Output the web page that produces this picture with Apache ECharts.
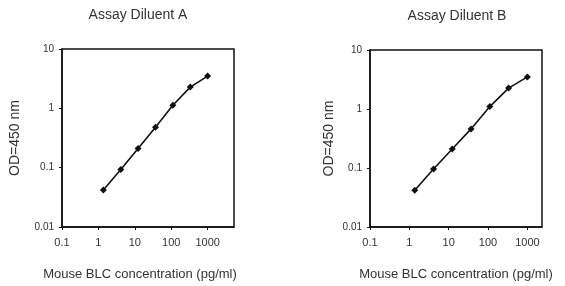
<!DOCTYPE html>
<html>
<head>
<meta charset="utf-8">
<script src="https://cdn.jsdelivr.net/npm/echarts@6/dist/echarts.min.js"></script>
<style>
  html, body { margin: 0; padding: 0; background: #fff; }
  #chart { width: 565px; height: 286px; }
</style>
</head>
<body>
<div id="chart"></div>
<script>
// concentrations (pg/ml), 3-fold dilutions
var conc = [1.37, 4.12, 12.3, 37, 111, 333, 1000];
var odA = [0.042, 0.093, 0.21, 0.48, 1.13, 2.28, 3.5];
var odB = [0.042, 0.096, 0.21, 0.46, 1.1, 2.26, 3.5];
var titles = ['Assay Diluent A', 'Assay Diluent B'];
var xName = 'Mouse BLC concentration (pg/ml)';
var yName = 'OD=450 nm';

function pairs(xs, ys) {
    return xs.map(function (x, i) { return [x, ys[i]]; });
}

var font = 'Liberation Sans, Arial, sans-serif';
var txt = '#333';

function fmt(v) {
    return String(+v.toPrecision(3));
}

function xAxis(idx, max, pad) {
    return {
        type: 'log', gridIndex: idx, min: 0.1, max: max,
        name: xName, nameLocation: 'middle', nameGap: 41,
        nameTextStyle: { color: txt, fontSize: 13, fontFamily: font, padding: pad },
        axisLine: { lineStyle: { color: '#111', width: 1.5 } },
        axisTick: { length: 3, lineStyle: { color: '#111' } },
        axisLabel: { color: txt, fontSize: 11, fontFamily: font, showMaxLabel: false, margin: 10, formatter: fmt },
        splitLine: { show: false }
    };
}
function yAxis(idx, gap) {
    return {
        type: 'log', gridIndex: idx, min: 0.01, max: 10,
        name: yName, nameLocation: 'middle', nameGap: gap, nameRotate: 90,
        nameTextStyle: { color: txt, fontSize: 14, fontFamily: font },
        axisLine: { lineStyle: { color: '#111', width: 1.5 } },
        axisTick: { length: 3, lineStyle: { color: '#111' } },
        axisLabel: { color: txt, fontSize: 10, fontFamily: font, margin: 8, formatter: fmt },
        splitLine: { show: false }
    };
}
function series(idx, ys) {
    return {
        type: 'line', xAxisIndex: idx, yAxisIndex: idx,
        data: pairs(conc, ys),
        symbol: 'diamond', symbolSize: 7,
        itemStyle: { color: '#111' },
        lineStyle: { color: '#111', width: 1.6 }
    };
}

var myChart = echarts.init(document.getElementById('chart'));
myChart.setOption({
    animation: false,
    title: [
        { text: titles[0], left: 133, top: 3, textAlign: 'center',
          textStyle: { fontSize: 14, fontWeight: 'normal', color: txt, fontFamily: font } },
        { text: titles[1], left: 452, top: 4, textAlign: 'center',
          textStyle: { fontSize: 14, fontWeight: 'normal', color: txt, fontFamily: font } }
    ],
    grid: [
        { left: 62, top: 49, width: 172, height: 183, show: true, borderColor: '#111', borderWidth: 1.5 },
        { left: 370, top: 50, width: 172, height: 182, show: true, borderColor: '#111', borderWidth: 1.5 }
    ],
    xAxis: [xAxis(0, 5300, [0, 16, 0, 0]), xAxis(1, 2350, [0, 0, 0, 0])],
    yAxis: [yAxis(0, 40), yAxis(1, 34)],
    series: [series(0, odA), series(1, odB)]
});
</script>
</body>
</html>
